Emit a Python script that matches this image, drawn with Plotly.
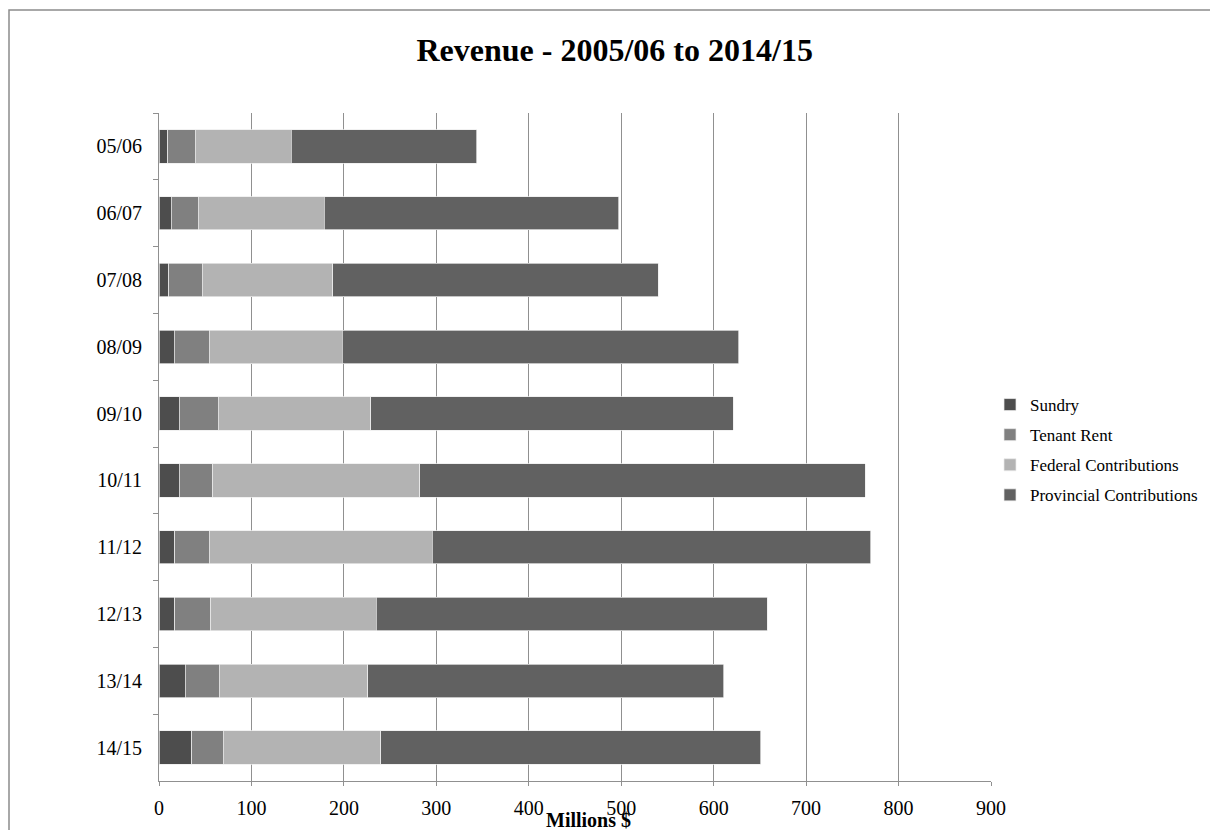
import plotly.graph_objects as go

years = ["05/06", "06/07", "07/08", "08/09", "09/10", "10/11", "11/12", "12/13", "13/14", "14/15"]
sundry = [9.5, 13.5, 10.8, 16.6, 21.9, 21.9, 16.8, 16.8, 28.6, 35.2]
tenant_rent = [29.7, 29.0, 36.0, 37.5, 42.3, 36.4, 37.4, 39.2, 36.3, 34.4]
federal = [104.0, 136.5, 141.2, 143.9, 164.8, 224.0, 241.3, 179.0, 160.8, 170.1]
provincial = [200.4, 318.5, 352.0, 429.0, 392.0, 481.7, 474.5, 423.0, 385.3, 411.3]

series_names = ["Sundry", "Tenant Rent", "Federal Contributions", "Provincial Contributions"]
series_values = [sundry, tenant_rent, federal, provincial]
series_colors = ["#4d4d4d", "#808080", "#b3b3b3", "#616161"]

x_ticks = [0, 100, 200, 300, 400, 500, 600, 700, 800, 900]

FONT = "Liberation Serif, Times New Roman, serif"

W, H = 1210, 830
L, R, T, B = 159, 991, 113, 781  # plot area in pixels


def px_x(p):
    return (p - L) / (R - L)


def px_y(p):
    return (B - p) / (B - T)


fig = go.Figure()
for name, vals, col in zip(series_names, series_values, series_colors):
    fig.add_trace(go.Bar(
        y=years, x=vals, name=name, orientation="h",
        marker=dict(color=col, line=dict(color="rgba(235,235,235,0.9)", width=0.8)),
        legendgroup=name,
    ))

fig.update_layout(
    width=W, height=H,
    margin=dict(l=L, r=W - R, t=T, b=H - B, pad=0, autoexpand=False),
    paper_bgcolor="white", plot_bgcolor="white",
    barmode="stack", bargap=0.5,
    font=dict(family=FONT, color="#000000", size=20),
    title=dict(text="<b>Revenue - 2005/06 to 2014/15</b>", font=dict(family=FONT, size=32, color="#000"),
               x=0.508, xanchor="center", xref="container", y=1 - 50 / H, yanchor="middle", yref="container"),
    showlegend=True,
    legend=dict(x=990 / W, xanchor="left", xref="container", y=1 - 450 / H, yanchor="middle", yref="container",
                traceorder="grouped", tracegroupgap=5,
                font=dict(family=FONT, size=17, color="#000"),
                itemwidth=30, bgcolor="rgba(0,0,0,0)"),
    xaxis=dict(range=[0, 900], tickvals=x_ticks, ticktext=[str(v) for v in x_ticks],
               showgrid=True, gridcolor="#909090", gridwidth=1,
               showline=True, linecolor="#909090", linewidth=1,
               ticks="outside", ticklen=4, tickcolor="#909090",
               ticklabelstandoff=5, zeroline=False,
               tickfont=dict(family=FONT, size=20, color="#000")),
    yaxis=dict(autorange="reversed", type="category",
               showline=True, linecolor="#909090", linewidth=1,
               ticks="outside", ticklen=5, tickcolor="#909090", tickson="boundaries",
               showgrid=False, ticklabelstandoff=12,
               tickfont=dict(family=FONT, size=20, color="#000")),
    annotations=[dict(text="<b>Millions $</b>", x=px_x(588), y=px_y(820), xref="paper", yref="paper",
                      xanchor="center", yanchor="middle", showarrow=False,
                      font=dict(family=FONT, size=20, color="#000"))],
    shapes=[dict(type="rect", xref="paper", yref="paper",
                 x0=px_x(9), x1=px_x(1230), y0=px_y(10), y1=px_y(860),
                 line=dict(color="#8c8c8c", width=1.5), fillcolor="rgba(0,0,0,0)", layer="below")],
)

fig.write_html("out.html")
